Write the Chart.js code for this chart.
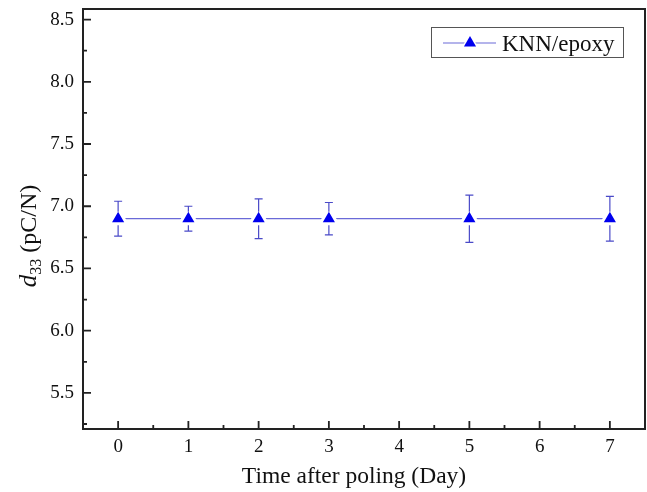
<!DOCTYPE html>
<html>
<head>
<meta charset="utf-8">
<script src="https://cdn.jsdelivr.net/npm/chart.js@4.4.1/dist/chart.umd.min.js"></script>
<style>
  html, body { margin: 0; padding: 0; background: #fff; }
  #wrap { width: 647px; height: 492px; }
</style>
</head>
<body>
<div id="wrap"><canvas id="chart" width="647" height="492"></canvas></div>
<script>
// data
var days = [0, 1, 2, 3, 5, 7];
var d33 = [6.9, 6.9, 6.9, 6.9, 6.9, 6.9];
var errUp = [7.04, 7.00, 7.06, 7.03, 7.09, 7.08];
var errLow = [6.76, 6.80, 6.74, 6.77, 6.71, 6.72];
var xTicks = [0, 1, 2, 3, 4, 5, 6, 7];
var yTicks = [5.5, 6.0, 6.5, 7.0, 7.5, 8.0, 8.5];
var xMinor = [-0.5, 0.5, 1.5, 2.5, 3.5, 4.5, 5.5, 6.5, 7.5];
var yMinor = [5.25, 5.75, 6.25, 6.75, 7.25, 7.75, 8.25];

var lineColor = '#6a6ad8';
var barColor = '#4a4ac8';
var markColor = '#0000ee';
var serif = '"Liberation Serif", "DejaVu Serif", serif';

function drawTri(ctx, x, y, r) {
    ctx.beginPath();
    ctx.moveTo(x, y - r);
    ctx.lineTo(x + r * Math.sin(Math.PI / 3), y + r / 2);
    ctx.lineTo(x - r * Math.sin(Math.PI / 3), y + r / 2);
    ctx.closePath();
}

function noPad(s) {
    s.paddingTop = 0;
    s.paddingBottom = 0;
    s.paddingLeft = 0;
    s.paddingRight = 0;
}

var extras = {
    id: 'extras',
    beforeDatasetsDraw: function(chart) {
        var ctx = chart.ctx;
        var xs = chart.scales.x, ys = chart.scales.y;
        ctx.save();
        ctx.strokeStyle = barColor;
        ctx.lineWidth = 1.2;
        for (var i = 0; i < days.length; i++) {
            var px = xs.getPixelForValue(days[i]);
            var py = ys.getPixelForValue(d33[i]);
            var pl = ys.getPixelForValue(errLow[i]);
            ctx.beginPath();
            ctx.moveTo(px, py);
            ctx.lineTo(px, pl);
            ctx.moveTo(px - 4, pl);
            ctx.lineTo(px + 4, pl);
            ctx.stroke();
        }
        ctx.restore();
    },
    afterDatasetsDraw: function(chart) {
        var ctx = chart.ctx;
        var xs = chart.scales.x, ys = chart.scales.y;
        var a = chart.chartArea;
        ctx.save();
        ctx.strokeStyle = barColor;
        ctx.lineWidth = 1.2;
        for (var i = 0; i < days.length; i++) {
            var px = xs.getPixelForValue(days[i]);
            var py = ys.getPixelForValue(d33[i]);
            var pu = ys.getPixelForValue(errUp[i]);
            ctx.beginPath();
            ctx.moveTo(px, pu);
            ctx.lineTo(px, py - 7);
            ctx.moveTo(px - 4, pu);
            ctx.lineTo(px + 4, pu);
            ctx.stroke();
        }

        // frame
        ctx.strokeStyle = '#222';
        ctx.lineWidth = 2;
        ctx.strokeRect(a.left, a.top, a.right - a.left, a.bottom - a.top);

        // inward ticks, left and bottom only
        ctx.lineWidth = 1.8;
        ctx.beginPath();
        xTicks.forEach(function(v) {
            var p = xs.getPixelForValue(v);
            ctx.moveTo(p, a.bottom); ctx.lineTo(p, a.bottom - 8);
        });
        xMinor.forEach(function(v) {
            var p = xs.getPixelForValue(v);
            ctx.moveTo(p, a.bottom); ctx.lineTo(p, a.bottom - 4);
        });
        yTicks.forEach(function(v) {
            var p = ys.getPixelForValue(v);
            ctx.moveTo(a.left, p); ctx.lineTo(a.left + 8, p);
        });
        yMinor.forEach(function(v) {
            var p = ys.getPixelForValue(v);
            ctx.moveTo(a.left, p); ctx.lineTo(a.left + 4, p);
        });
        ctx.stroke();

        // x title
        ctx.fillStyle = '#111';
        ctx.font = '23.5px ' + serif;
        ctx.textAlign = 'center';
        ctx.textBaseline = 'alphabetic';
        ctx.fillText('Time after poling (Day)', 354, 483);
        ctx.textAlign = 'left';

        // y title: d33 (pC/N)
        ctx.save();
        ctx.translate(36, 236);
        ctx.rotate(-Math.PI / 2);
        ctx.fillStyle = '#111';
        ctx.textBaseline = 'alphabetic';
        var parts = [
            { t: 'd', f: 'italic 25px ' + serif, dy: 0 },
            { t: '33', f: '16px ' + serif, dy: 5 },
            { t: ' (pC/N)', f: '24px ' + serif, dy: 0 }
        ];
        var total = 0;
        parts.forEach(function(p) { ctx.font = p.f; p.w = ctx.measureText(p.t).width; total += p.w; });
        var cx = -total / 2;
        parts.forEach(function(p) {
            ctx.font = p.f;
            ctx.fillText(p.t, cx, p.dy);
            cx += p.w;
        });
        ctx.restore();

        // legend
        ctx.strokeStyle = '#555';
        ctx.lineWidth = 1;
        ctx.strokeRect(431.5, 27.5, 192, 30);
        ctx.strokeStyle = lineColor;
        ctx.lineWidth = 1.2;
        ctx.beginPath();
        ctx.moveTo(443, 43); ctx.lineTo(496, 43);
        ctx.stroke();
        drawTri(ctx, 470, 43, 10);
        ctx.fillStyle = '#fff';
        ctx.fill();
        drawTri(ctx, 470, 43, 7);
        ctx.fillStyle = markColor;
        ctx.fill();
        ctx.fillStyle = '#111';
        ctx.font = '23px ' + serif;
        ctx.textBaseline = 'alphabetic';
        ctx.fillText('KNN/epoxy', 502, 51);
        ctx.restore();
    }
};

new Chart(document.getElementById('chart'), {
    type: 'line',
    data: {
        datasets: [{
            label: 'KNN/epoxy',
            data: days.map(function(d, i) { return { x: d, y: d33[i] }; }),
            borderColor: lineColor,
            borderWidth: 1.2,
            pointStyle: 'triangle',
            pointRadius: 10,
            pointBorderWidth: 3,
            pointBorderColor: '#fff',
            pointBackgroundColor: markColor,
            fill: false,
            tension: 0
        }]
    },
    options: {
        responsive: false,
        animation: false,
        events: [],
        layout: { autoPadding: false, padding: { top: 9, right: 2, left: 0, bottom: 0 } },
        plugins: { legend: { display: false }, tooltip: { enabled: false } },
        scales: {
            x: {
                type: 'linear',
                min: -0.5,
                max: 7.5,
                afterBuildTicks: function(s) { s.ticks = xTicks.map(function(v) { return { value: v }; }); },
                afterFit: function(s) { s.height = 63; noPad(s); },
                grid: { display: false, drawTicks: false },
                border: { display: false },
                ticks: { padding: 7, color: '#111', font: { family: serif, size: 19 } }
            },
            y: {
                min: 5.21,
                max: 8.585,
                afterBuildTicks: function(s) { s.ticks = yTicks.map(function(v) { return { value: v }; }); },
                afterFit: function(s) { s.width = 83; noPad(s); },
                grid: { display: false, drawTicks: false },
                border: { display: false },
                ticks: {
                    padding: 9,
                    color: '#111',
                    font: { family: serif, size: 19 },
                    callback: function(v) { return Number(v).toFixed(1); }
                }
            }
        }
    },
    plugins: [extras]
});
</script>
</body>
</html>
